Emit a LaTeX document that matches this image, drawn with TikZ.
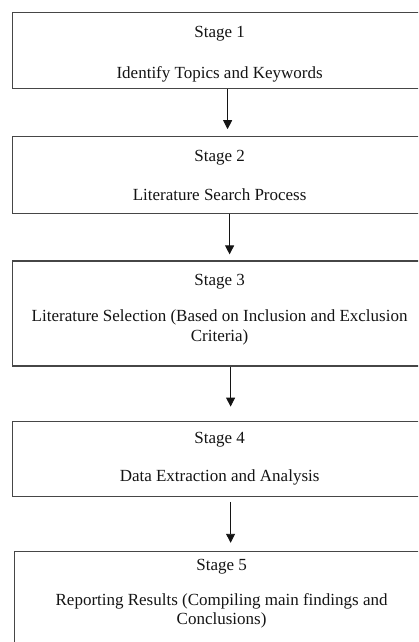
\documentclass[tikz,border=0pt]{standalone}
\usepackage{fontspec}
\setmainfont{Liberation Serif}
\usetikzlibrary{arrows.meta,positioning}
\definecolor{frameGray}{RGB}{70, 70, 70}
\definecolor{inkBlack}{RGB}{20, 20, 20}

\tikzset{
    stagebox/.style={draw=frameGray, line width=1.2pt, rectangle, minimum width=414pt,
        align=center, inner sep=0pt, text=inkBlack,
        font=\fontsize{17pt}{19.5pt}\selectfont},
    flowarrow/.style={draw=inkBlack, line width=0.9pt, -{Triangle[length=9pt,width=9pt]}}
}

\begin{document}
\begin{tikzpicture}[x=1pt, y=-1pt]
    \useasboundingbox (0,0) rectangle (418,642);
    \clip (0,0) rectangle (418,642);
    \node[stagebox, minimum height=76pt, anchor=north west] (s1) at (12,12)
        {\rule{0pt}{18pt}Stage 1\\[22pt]Identify Topics and Keywords};
    \node[stagebox, minimum height=77pt, below=47pt of s1] (s2)
        {Stage 2\\[20pt]Literature Search Process};
    \node[stagebox, minimum height=105pt, below=46pt of s2] (s3)
        {Stage 3\\[17pt]Literature Selection (Based on Inclusion and Exclusion\\Criteria)\\[-8pt]};
    \node[stagebox, minimum height=75pt, below=54pt of s3] (s4)
        {Stage 4\\[18pt]Data Extraction and Analysis};
    \node[stagebox, minimum height=105pt, below=54pt of s4, xshift=2pt] (s5)
        {Stage 5\\[15pt]Reporting Results (Compiling main findings and\\Conclusions)\\[4pt]};

    \draw[flowarrow] ([xshift=8pt]s1.south) -- ([xshift=8pt,yshift=7pt]s2.north);
    \draw[flowarrow] ([xshift=10pt]s2.south) -- ([xshift=10pt,yshift=6pt]s3.north);
    \draw[flowarrow] ([xshift=11pt]s3.south) -- ([xshift=11pt,yshift=14pt]s4.north);
    \draw[flowarrow] ([xshift=11pt,yshift=-5pt]s4.south) -- ([xshift=9pt,yshift=8pt]s5.north);
\end{tikzpicture}
\end{document}
